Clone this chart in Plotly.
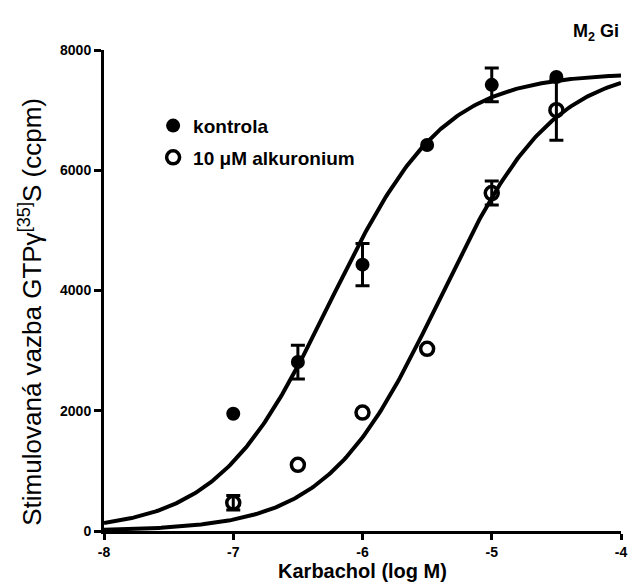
import numpy as np
import plotly.graph_objects as go

# Data
log_conc = [-7.0, -6.5, -6.0, -5.5, -5.0, -4.5]
kontrola = [1950, 2810, 4430, 6420, 7420, 7550]
kontrola_err = [0, 280, 350, 0, 280, 0]
alkuronium = [470, 1100, 1970, 3030, 5620, 7000]
alkuronium_err = [120, 0, 0, 0, 200, 500]

# Fitted sigmoid parameters (bottom, top, logEC50, hill)
fit_kontrola = dict(bottom=0, top=7620, logec50=-6.25, hill=1.0)
fit_alkuronium = dict(bottom=0, top=7750, logec50=-5.40, hill=1.0)

x_ticks = [-8, -7, -6, -5, -4]
y_ticks = [0, 2000, 4000, 6000, 8000]

def sigmoid(x, p):
    x = np.asarray(x)
    return p["bottom"] + (p["top"] - p["bottom"]) / (1 + 10 ** ((p["logec50"] - x) * p["hill"]))

def err_points(xv, yv, ev):
    pts = [(a, b, e) for a, b, e in zip(xv, yv, ev) if e > 0]
    return [p[0] for p in pts], [p[1] for p in pts], [p[2] for p in pts]

xs = np.linspace(-8, -4, 300)

fig = go.Figure()
fig.add_trace(go.Scatter(x=xs, y=sigmoid(xs, fit_kontrola), mode="lines",
                         line=dict(color="black", width=4), showlegend=False, hoverinfo="skip"))
fig.add_trace(go.Scatter(x=xs, y=sigmoid(xs, fit_alkuronium), mode="lines",
                         line=dict(color="black", width=4), showlegend=False, hoverinfo="skip"))

# error bars (only where present)
for xv, yv, ev in [(log_conc, alkuronium, alkuronium_err), (log_conc, kontrola, kontrola_err)]:
    ex, ey, ee = err_points(xv, yv, ev)
    fig.add_trace(go.Scatter(x=ex, y=ey, mode="markers", marker=dict(size=1, opacity=0),
                             error_y=dict(type="data", array=ee, color="black", thickness=3, width=7),
                             showlegend=False, hoverinfo="skip"))

fig.add_trace(go.Scatter(
    x=log_conc, y=alkuronium, mode="markers", name="10 \u03bcM alkuronium",
    legendgroup="b", legendrank=2,
    marker=dict(symbol="circle-open", size=13, color="black", line=dict(width=3.5, color="black")),
))
fig.add_trace(go.Scatter(
    x=log_conc, y=kontrola, mode="markers", name="kontrola",
    legendgroup="a", legendrank=1,
    marker=dict(symbol="circle", size=14, color="black"),
))

fig.update_layout(
    width=634, height=583,
    margin=dict(l=104, r=7, t=50, b=52),
    plot_bgcolor="white", paper_bgcolor="white",
    font=dict(family="Liberation Sans, Arial, sans-serif", color="black"),
    showlegend=True,
    legend=dict(x=0.095, y=0.882, xanchor="left", yanchor="top",
                font=dict(size=19, family="Liberation Sans, Arial, sans-serif", weight="bold"),
                bgcolor="rgba(0,0,0,0)", tracegroupgap=4, itemwidth=30),
    xaxis=dict(range=[-8, -4], tickvals=x_ticks, ticktext=[str(v) for v in x_ticks],
               showgrid=False, zeroline=False, showline=True, linecolor="black", linewidth=3,
               ticks="outside", ticklen=6, tickwidth=3, tickcolor="black",
               tickfont=dict(size=14, weight="bold"),
               title=dict(text="Karbachol (log M)", font=dict(size=20, weight="bold"), standoff=0)),
    yaxis=dict(range=[0, 8000], tickvals=y_ticks, ticktext=[str(v) for v in y_ticks],
               showgrid=False, zeroline=False, showline=True, linecolor="black", linewidth=3,
               ticks="outside", ticklen=7, tickwidth=3, tickcolor="black",
               tickfont=dict(size=14, weight="bold")),
    annotations=[
        dict(text="M<sub>2</sub> Gi", xref="paper", yref="paper", x=1.0, y=1.037,
             xanchor="right", yanchor="middle", showarrow=False,
             font=dict(size=18, weight="bold")),
        dict(text="Stimulovaná vazba GTP\u03b3<sup>[35]</sup>S (ccpm)", xref="paper", yref="paper",
             x=-0.142, y=0.455, xanchor="center", yanchor="middle", textangle=-90,
             showarrow=False, font=dict(size=26)),
    ],
)

fig.write_html("out.html")
